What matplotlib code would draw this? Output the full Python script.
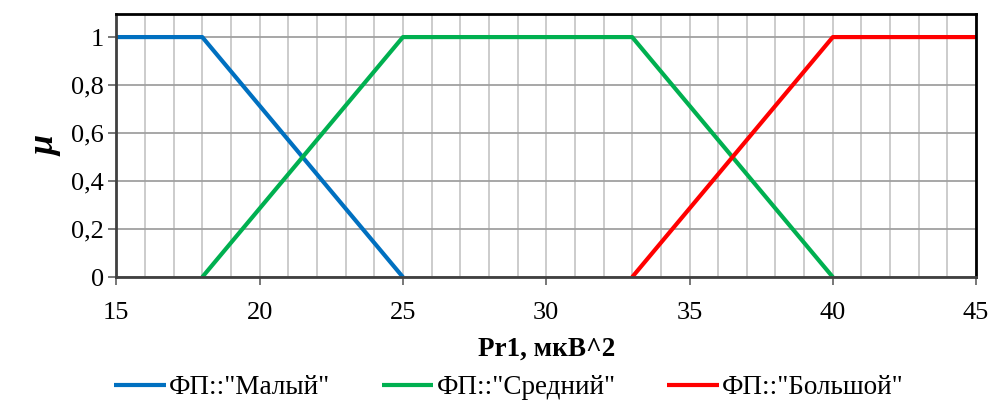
import matplotlib.pyplot as plt
from matplotlib.ticker import MultipleLocator, FuncFormatter

plt.rcParams['font.family'] = ['Liberation Serif', 'DejaVu Serif']

# membership functions, x and mu values
small_x = [15, 18, 25]
small_y = [1, 1, 0]
mid_x = [18, 25, 33, 40]
mid_y = [0, 1, 1, 0]
big_x = [33, 40, 45]
big_y = [0, 1, 1]
labels = ['ФП::"Малый"', 'ФП::"Средний"', 'ФП::"Большой"']

fig = plt.figure(figsize=(9.94, 4.01), dpi=100)
ax = fig.add_axes([0.117, 0.309, 0.865, 0.656])

ax.plot(small_x, small_y, color="#0070C0", lw=3, label=labels[0], solid_capstyle='butt')
ax.plot(mid_x, mid_y, color="#00B050", lw=3, label=labels[1], solid_capstyle='butt')
ax.plot(big_x, big_y, color="#FF0000", lw=3, label=labels[2], solid_capstyle='butt')

ax.set_xlim(15, 45)
ax.set_ylim(0, 1.096)
ax.xaxis.set_major_locator(MultipleLocator(5))
ax.xaxis.set_minor_locator(MultipleLocator(1))
ax.yaxis.set_major_locator(MultipleLocator(0.2))
ax.yaxis.set_major_formatter(FuncFormatter(lambda v, p: ('%g' % round(v, 1)).replace('.', ',')))

ax.grid(True, which='major', axis='y', color='#a0a0a0', lw=1.3)
ax.grid(True, which='both', axis='x', color='#c8c8c8', lw=1.3)
ax.set_axisbelow(True)

ax.tick_params(axis='both', which='major', direction='out', length=6, width=1.2,
               color='#606060', labelsize=19, pad=3)
ax.tick_params(axis='x', which='minor', length=0)
ax.tick_params(axis='x', pad=12)
for s in ax.spines.values():
    s.set_color('black')
    s.set_linewidth(2)
ax.spines['left'].set_color('#404040')
ax.spines['bottom'].set_color('#404040')

ax.set_xlabel('Pr1, мкВ^2', fontsize=19.5, fontweight='bold', labelpad=9)
ax.set_ylabel('μ', fontsize=26, fontweight='bold', style='italic', labelpad=6)

fig.legend(loc='center', bbox_to_anchor=(0.512, 0.033), ncol=3, frameon=False,
           fontsize=19.5, handlelength=1.9, handletextpad=0.12, columnspacing=1.9,
           borderaxespad=0, borderpad=0)

fig.savefig('out.png', dpi=100)
